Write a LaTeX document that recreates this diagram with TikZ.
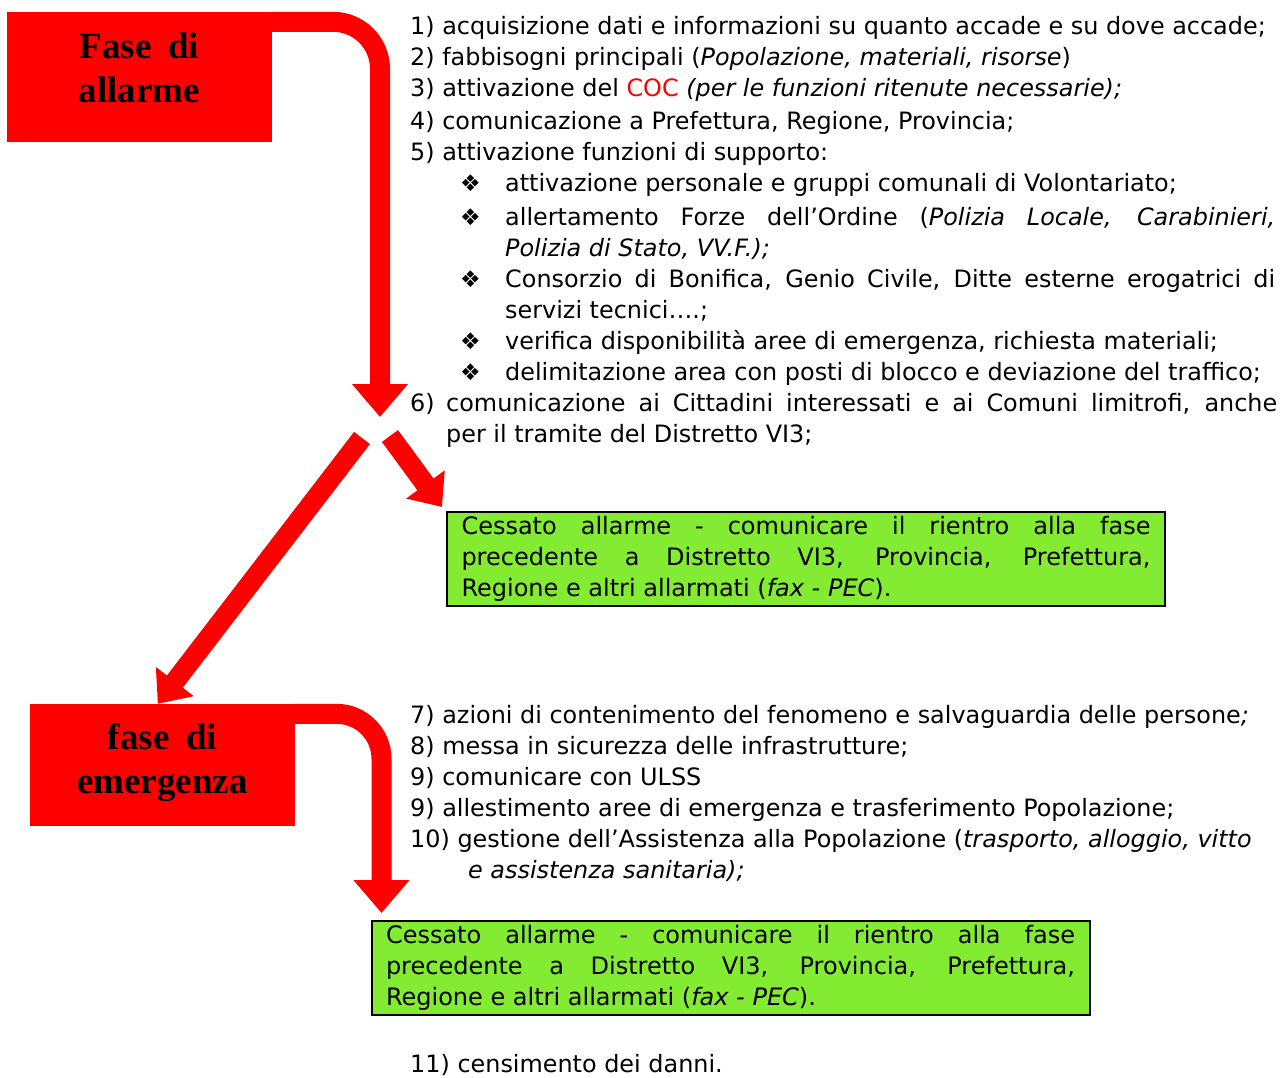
\documentclass[tikz,border=0pt]{standalone}
\usepackage{fontspec}
\setmainfont{DejaVu Sans}
\newfontfamily\titolofont{Liberation Serif}
\usetikzlibrary{arrows.meta,calc}

\definecolor{rossofase}{RGB}{255,0,0}
\definecolor{verdebox}{RGB}{130,235,50}
\newcommand{\giust}[2]{\makebox[#1][s]{#2}}
\newcommand{\rombo}{❖}

\begin{document}
\begin{tikzpicture}[x=1pt,y=-1pt]
% Stili
\tikzstyle{fase} = [rectangle, fill=rossofase, inner sep=0pt, minimum width=265pt, minimum height=130pt]
\tikzstyle{fasetesto} = [inner sep=0pt, align=center, font=\titolofont\bfseries\fontsize{37}{44}\selectfont]
\tikzstyle{cessato} = [rectangle, fill=verdebox, draw=black, line width=2pt, inner xsep=14.5pt, inner ysep=0pt, minimum height=94pt, text width=689pt, align=justify, font=\fontsize{24}{31}\selectfont]
\tikzstyle{voce} = [anchor=base west, inner sep=0pt, font=\fontsize{23.9}{31}\selectfont]
\tikzstyle{punto} = [anchor=base west, inner sep=0pt, font=\fontsize{23}{31}\selectfont]
\tikzstyle{freccia} = [draw=rossofase, line width=20pt, -{Triangle[length=33pt,width=54pt]}]
\tikzstyle{freccina} = [draw=rossofase, line width=20pt, -{Triangle[length=28pt,width=46pt]}]

\useasboundingbox (0,0) rectangle (1281,1077);

% Fasi
\node[fase] (allarme) at (139.5,77) {};
\node[fasetesto] (allarmetxt) at (139.5,67.5) {Fase\hspace{0.45em}di\\allarme};

\node[fase, minimum height=122pt] (emergenza) at (162.5,765) {};
\node[fasetesto] (emergenzatxt) at (162.5,763) {fase\hspace{0.45em}di\\emergenza};

% Riquadri cessato allarme
\node[cessato] (cessato1) at (806,559) {%
    \giust{689pt}{Cessato allarme - comunicare il rientro alla fase}\\
    \giust{689pt}{precedente a Distretto VI3, Provincia, Prefettura,}\\
    Regione e altri allarmati (\textit{fax - PEC}).};

\node[cessato] (cessato2) at (730.5,967.5) {%
    \giust{689pt}{Cessato allarme - comunicare il rientro alla fase}\\
    \giust{689pt}{precedente a Distretto VI3, Provincia, Prefettura,}\\
    Regione e altri allarmati (\textit{fax - PEC}).};

% Punti fase di allarme
\node[voce] (v1) at (410,34) {1) acquisizione dati e informazioni su quanto accade e su dove accade;};
\node[voce] (v2) at (410,65) {2) fabbisogni principali (\textit{Popolazione, materiali, risorse})};
\node[voce] (v3) at (410,96) {3) attivazione del \textcolor{rossofase}{COC} \textit{(per le funzioni ritenute necessarie);}};
\node[voce] (v4) at (410,129) {4) comunicazione a Prefettura, Regione, Provincia;};
\node[voce] (v5) at (410,160) {5) attivazione funzioni di supporto:};

\node[punto] (p1) at (460,191) {\rombo};
\node[voce] (s1) at (505,191) {attivazione personale e gruppi comunali di Volontariato;};
\node[punto] (p2) at (460,225) {\rombo};
\node[voce] (s2) at (505,225) {\giust{770pt}{allertamento Forze dell’Ordine (\textit{Polizia Locale, Carabinieri,}}};
\node[voce] (s2b) at (505,256) {\textit{Polizia di Stato, VV.F.);}};
\node[punto] (p3) at (460,287) {\rombo};
\node[voce] (s3) at (505,287) {\giust{770pt}{Consorzio di Bonifica, Genio Civile, Ditte esterne erogatrici di}};
\node[voce] (s3b) at (505,318) {servizi tecnici….;};
\node[punto] (p4) at (460,349) {\rombo};
\node[voce] (s4) at (505,349) {verifica disponibilità aree di emergenza, richiesta materiali;};
\node[punto] (p5) at (460,380) {\rombo};
\node[voce] (s5) at (505,380) {delimitazione area con posti di blocco e deviazione del traffico;};

\node[voce] (v6) at (410,411) {6)};
\node[voce] (v6t) at (446,411) {\giust{831pt}{comunicazione ai Cittadini interessati e ai Comuni limitrofi, anche}};
\node[voce] (v6b) at (446,442) {per il tramite del Distretto VI3;};

% Punti fase di emergenza
\node[voce] (v7) at (410,723) {7) azioni di contenimento del fenomeno e salvaguardia delle persone\textit{;}};
\node[voce] (v8) at (410,754) {8) messa in sicurezza delle infrastrutture;};
\node[voce] (v9) at (410,785) {9) comunicare con ULSS};
\node[voce] (v9b) at (410,816) {9) allestimento aree di emergenza e trasferimento Popolazione;};
\node[voce] (v10) at (410,847) {10) gestione dell’Assistenza alla Popolazione (\textit{trasporto, alloggio, vitto}};
\node[voce] (v10b) at (468,878) {\textit{e assistenza sanitaria);}};
\node[voce] (v11) at (410,1072) {11) censimento dei danni.};

% Frecce
\coordinate (bivio) at (380,417);
\coordinate (codasx) at (362,438);
\coordinate (codadx) at (390,436);
\coordinate (punta2) at (381.5,913);

\draw[freccia, rounded corners=47pt] ([yshift=-10pt]allarme.north east) -| (bivio);
\draw[freccina] (codasx) -- ($(emergenza.north west)+(128,0)$);
\draw[freccina] (codadx) -- ($(cessato1.north west)+(-4,-4)$);
\draw[freccia, rounded corners=45pt] ([yshift=-10pt]emergenza.north east) -| (punta2);
\end{tikzpicture}
\end{document}
